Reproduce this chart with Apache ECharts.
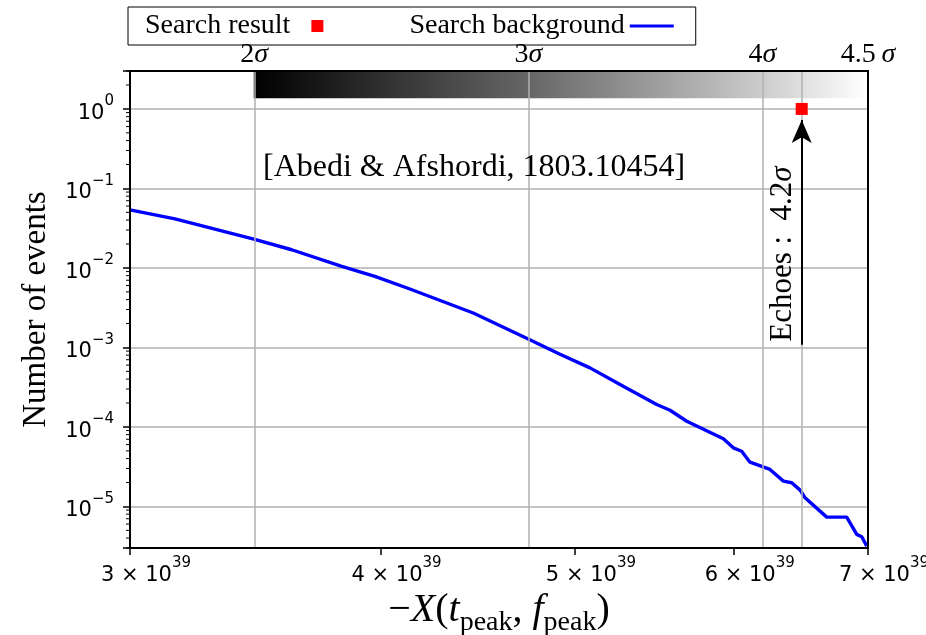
<!DOCTYPE html>
<html>
<head>
<meta charset="utf-8">
<script src="https://cdn.jsdelivr.net/npm/echarts@6/dist/echarts.min.js"></script>
<style>
  html, body { margin: 0; padding: 0; background: #fff; }
  #chart { width: 926px; height: 635px; }
</style>
</head>
<body>
<div id="chart"></div>
<script>
// Search background: -X(t_peak, f_peak) in units of 1e39 and expected number of events
const bgX = [3.000, 3.159, 3.458, 3.612, 3.826, 3.974, 4.137, 4.449, 4.739, 4.915, 5.087,
             5.285, 5.492, 5.577, 5.685, 5.929, 5.997, 6.055, 6.113, 6.255, 6.352, 6.413, 6.475,
             6.512, 6.676, 6.831, 6.910, 6.950, 6.990];
const bgN = [0.0538, 0.0415, 0.02307, 0.01693, 0.01044, 0.00782, 0.00543, 0.002713, 0.001279,
             8.2e-4, 5.53e-4, 3.245e-4, 1.912e-4, 1.621e-4, 1.179e-4, 7.09e-5, 5.46e-5, 4.95e-5,
             3.60e-5, 2.92e-5, 2.08e-5, 1.985e-5, 1.603e-5, 1.286e-5, 7.34e-6, 7.34e-6, 4.45e-6,
             4.16e-6, 3.17e-6];

// Significance levels of the background and where they fall on the X axis
const sigmaLevels = [2, 3, 4, 4.5];
const sigmaX = [3.458, 4.739, 6.200, 6.995];

// Search result (echoes)
const searchX = 6.487;
const searchN = 1;
const searchSigma = 4.2;
const arrowFromN = 1.08e-3;
const arrowToN = 0.727;

// Significance band extent (number of events)
const bandN = [1.36, 3];

// Axis ranges and tick labels
const xRange = [3, 7];
const yRange = [3e-6, 3];
const xTicks = [3, 4, 5, 6, 7];
const xTickExponent = 39;

const serif = 'Liberation Serif';
const sans = 'DejaVu Sans';

// minor ticks of the logarithmic y axis (2..9 x 10^k)
const yMinor = [];
for (let e = -6; e <= 0; e++) {
  for (let m = 2; m <= 9; m++) {
    const v = m * Math.pow(10, e);
    if (v >= yRange[0] * 0.999 && v <= yRange[1] * 1.001) yMinor.push(v);
  }
}

const supRich = {
  b: { fontFamily: sans, fontSize: 21, lineHeight: 30, verticalAlign: 'bottom', color: '#000' },
  s: { fontFamily: sans, fontSize: 15, lineHeight: 15, verticalAlign: 'top', color: '#000' }
};
const xSupRich = {
  b: { fontFamily: sans, fontSize: 21, lineHeight: 30, verticalAlign: 'bottom', color: '#000', padding: [0, 0, 0, 32] },
  s: { fontFamily: sans, fontSize: 15, lineHeight: 15, verticalAlign: 'top', color: '#000' }
};
const sigmaRich = {
  n: { fontFamily: serif, fontSize: 28, color: '#000' },
  i: { fontFamily: serif, fontSize: 28, fontStyle: 'italic', color: '#000' }
};

function shadeAt(s) {
  const t = (s - sigmaLevels[0]) / (sigmaLevels[sigmaLevels.length - 1] - sigmaLevels[0]);
  const g = Math.round(255 * Math.max(0, Math.min(1, t)));
  return 'rgb(' + g + ',' + g + ',' + g + ')';
}

const chart = echarts.init(document.getElementById('chart'));

chart.setOption({
  animation: false,
  backgroundColor: '#fff',
  grid: {
    left: 130, right: 58, top: 71, bottom: 87, containLabel: false, outerBoundsMode: 'none',
    show: true, borderColor: '#000', borderWidth: 2, z: 10
  },
  legend: {
    left: 128, top: 7, orient: 'horizontal', align: 'right',
    padding: [5, 22, 5, 17], itemGap: 86, itemWidth: 44, itemHeight: 12,
    borderColor: '#000', borderWidth: 1, borderRadius: 0,
    textStyle: { fontFamily: serif, fontSize: 28, color: '#000' },
    data: [
      { name: 'Search result', icon: 'path://M0,0L10,0L10,10L0,10Z', itemStyle: { color: '#ff0000', opacity: 1 } },
      { name: 'Search background', icon: 'path://M0,0L44,0L44,3L0,3Z', itemStyle: { color: '#0000ff', opacity: 1 } }
    ]
  },
  xAxis: {
    type: 'log', logBase: 10, min: xRange[0], max: xRange[1],
    name: '{m|−}{i|X}{m|(}{i|t}{sub|peak}{m|, }{i|f}{sub|peak}{m|)}',
    nameLocation: 'middle', nameGap: 40,
    nameTextStyle: {
      rich: {
        m: { fontFamily: serif, fontSize: 40, lineHeight: 46, verticalAlign: 'top', color: '#000' },
        i: { fontFamily: serif, fontSize: 40, fontStyle: 'italic', lineHeight: 46, verticalAlign: 'top', color: '#000' },
        sub: { fontFamily: serif, fontSize: 28, lineHeight: 28, verticalAlign: 'bottom', color: '#000' }
      }
    },
    axisLine: { show: true, lineStyle: { color: '#000', width: 2 } },
    axisTick: { show: true, customValues: xTicks, length: 7, lineStyle: { color: '#000', width: 1.5 } },
    axisLabel: {
      customValues: xTicks, margin: 8,
      formatter: v => '{b|' + Math.round(v) + ' × 10}{s|' + xTickExponent + '}',
      rich: xSupRich
    },
    splitLine: { show: false }
  },
  yAxis: {
    type: 'log', logBase: 10, min: yRange[0], max: yRange[1],
    name: 'Number of events', nameLocation: 'middle', nameGap: 77, nameRotate: 90,
    nameTextStyle: { fontFamily: serif, fontSize: 33, color: '#000' },
    axisLine: { show: true, lineStyle: { color: '#000', width: 2 } },
    axisTick: { show: true, length: 7, lineStyle: { color: '#000', width: 1.5 } },
    axisLabel: {
      margin: 16,
      formatter: v => {
        const l = Math.log10(v);
        const e = Math.round(l);
        if (Math.abs(l - e) > 1e-6) return '';
        return '{b|10}{s|' + (e < 0 ? '−' + (-e) : e) + '}';
      },
      rich: supRich
    },
    splitLine: { show: true, lineStyle: { color: '#b0b0b0', width: 1.5 } }
  },
  graphic: [{
    type: 'text', left: 263, top: 152, z: 20,
    style: { text: '[Abedi & Afshordi, 1803.10454]', font: '32px "Liberation Serif"', fill: '#000' }
  }],
  series: [
    {
      // significance shading band
      type: 'custom', z: 1, silent: true, clip: false,
      data: [[sigmaX[0], bandN[0]]],
      renderItem: (params, api) => {
        const p0 = api.coord([sigmaX[0], bandN[1]]);
        const p1 = api.coord([sigmaX[sigmaX.length - 1], bandN[0]]);
        const w = p1[0] - p0[0];
        const stops = sigmaLevels.map((s, i) => ({
          offset: Math.max(0, Math.min(1, (api.coord([sigmaX[i], bandN[0]])[0] - p0[0]) / w)),
          color: shadeAt(s)
        }));
        return {
          type: 'rect',
          shape: { x: p0[0], y: p0[1], width: w, height: p1[1] - p0[1] },
          style: { fill: new echarts.graphic.LinearGradient(0, 0, 1, 0, stops) }
        };
      }
    },
    {
      // minor ticks of the log y axis
      type: 'custom', z: 11, silent: true, clip: false,
      data: yMinor.map(v => [xRange[0], v]),
      renderItem: (params, api) => {
        const p = api.coord([api.value(0), api.value(1)]);
        return {
          type: 'line',
          shape: { x1: p[0] - 4, y1: p[1], x2: p[0], y2: p[1] },
          style: { stroke: '#000', lineWidth: 1 }
        };
      }
    },
    {
      name: 'Search background', type: 'line', z: 3,
      data: bgX.map((x, i) => [x, bgN[i]]),
      symbol: 'none', showSymbol: false,
      lineStyle: { color: '#0000ff', width: 3.4 },
      itemStyle: { color: '#0000ff' },
      markLine: {
        silent: true, symbol: 'none', animation: false,
        lineStyle: { color: '#b0b0b0', width: 1.5, type: 'solid' },
        label: { position: 'end', distance: 2, rich: sigmaRich },
        emphasis: { disabled: true },
        data: sigmaLevels.map((s, i) => ({
          xAxis: sigmaX[i],
          label: { formatter: '{n|' + s + (s % 1 ? '\u2009' : '') + '}{i|σ}' }
        })).concat([{ xAxis: searchX, label: { show: false } }])
      }
    },
    {
      name: 'Search result', type: 'scatter', z: 6,
      data: [[searchX, searchN]],
      symbol: 'rect', symbolSize: 12,
      itemStyle: { color: '#ff0000', opacity: 1 },
      markLine: {
        silent: true, animation: false,
        symbol: ['none', 'arrow'], symbolSize: [15, 23],
        lineStyle: { color: '#000', width: 2, type: 'solid' },
        label: {
          show: true, position: 'insideStartTop', distance: 3,
          formatter: '{n|Echoes :  ' + searchSigma + '}{i|σ}',
          rich: {
            n: { fontFamily: serif, fontSize: 31, color: '#000' },
            i: { fontFamily: serif, fontSize: 31, fontStyle: 'italic', color: '#000' }
          }
        },
        emphasis: { disabled: true },
        data: [[{ coord: [searchX, arrowFromN] }, { coord: [searchX, arrowToN] }]]
      }
    }
  ]
});
</script>
</body>
</html>
